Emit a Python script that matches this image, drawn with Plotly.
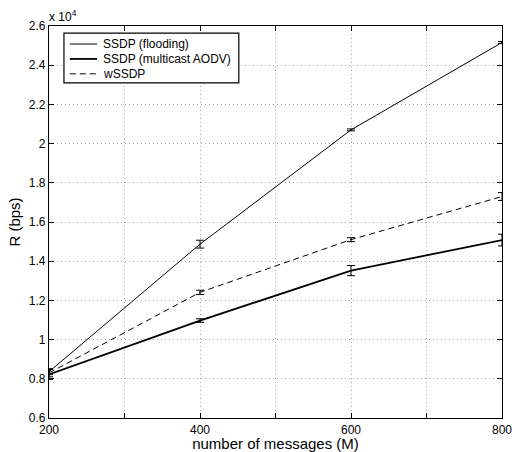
import plotly.graph_objects as go

messages = [200, 400, 600, 800]
ssdp_flooding = [8360, 14870, 20700, 25160]
ssdp_flooding_err = [150, 200, 50, 50]
ssdp_maodv = [8220, 10970, 13520, 15080]
ssdp_maodv_err = [250, 90, 260, 300]
wssdp = [8300, 12410, 15100, 17300]
wssdp_err = [200, 110, 100, 200]

series_names = ["SSDP (flooding)", "SSDP (multicast AODV)", "wSSDP"]

y_ticks = [6000, 8000, 10000, 12000, 14000, 16000, 18000, 20000, 22000, 24000, 26000]
y_tick_labels = ["0.6", "0.8", "1", "1.2", "1.4", "1.6", "1.8", "2", "2.2", "2.4", "2.6"]
x_ticks = [200, 400, 600, 800]
x_tick_labels = ["200", "400", "600", "800"]

FONT = "Liberation Sans, Arial, Helvetica, sans-serif"
GRID = dict(showgrid=True, gridcolor="#a8a8a8", griddash="1px,3px", gridwidth=1)

styles = [
    dict(color="black", width=1),
    dict(color="black", width=1.8),
    dict(color="black", width=1, dash="6px,4px"),
]
values = [ssdp_flooding, ssdp_maodv, wssdp]
errors = [ssdp_flooding_err, ssdp_maodv_err, wssdp_err]

fig = go.Figure()
for name, vals, errs, st in zip(series_names, values, errors, styles):
    fig.add_trace(go.Scatter(
        x=messages, y=vals, name=name, mode="lines", line=st, showlegend=False,
        error_y=dict(type="data", array=errs, color="black", thickness=1, width=4)))

axis_common = dict(
    showline=True, linecolor="black", linewidth=1.2, mirror="ticks",
    ticks="inside", ticklen=5, tickcolor="black",
    zeroline=False, tickfont=dict(family=FONT, size=12, color="black"),
    automargin=False, ticklabeloverflow="allow", **GRID,
)

# Legend (drawn as a framed box in paper coordinates)
box = dict(x0=0.033, x1=0.419, y0=0.855, y1=0.982)
row_y = [0.954, 0.916, 0.878]
shapes = [dict(type="rect", xref="paper", yref="paper", layer="above",
               fillcolor="white", line=dict(color="black", width=1.2), **box)]
annotations = []
for name, st, ry in zip(series_names, styles, row_y):
    shapes.append(dict(type="line", xref="paper", yref="paper", layer="above",
                       x0=0.046, x1=0.106, y0=ry, y1=ry,
                       line=dict(color=st["color"], width=st["width"],
                                 dash=st.get("dash", "solid"))))
    annotations.append(dict(text=name, x=0.114, y=ry, xref="paper", yref="paper",
                            xanchor="left", yanchor="middle", showarrow=False,
                            font=dict(family=FONT, size=12, color="black")))

annotations.append(dict(text="x 10<sup>4</sup>", x=0, y=1, xref="paper", yref="paper",
                        xanchor="left", yanchor="bottom", showarrow=False,
                        font=dict(family=FONT, size=12, color="black"), xshift=-2))

fig.update_layout(
    width=512, height=452,
    margin=dict(l=49, r=10, t=26, b=34),
    paper_bgcolor="white", plot_bgcolor="white",
    font=dict(family=FONT, size=12, color="black"),
    xaxis=dict(range=[200, 800], tickvals=x_ticks, ticktext=x_tick_labels,
               minor=dict(dtick=100, tick0=200, ticks="inside", ticklen=5,
                          tickcolor="black", **GRID),
               title=dict(text="number of messages (M)", font=dict(size=15, color="black"), standoff=0),
               **axis_common),
    yaxis=dict(range=[6000, 26000], tickvals=y_ticks, ticktext=y_tick_labels,
               title=dict(text="R (bps)", font=dict(size=15, color="black"), standoff=4),
               **axis_common),
    showlegend=False,
    shapes=shapes,
    annotations=annotations,
)

fig.write_html("out.html")
